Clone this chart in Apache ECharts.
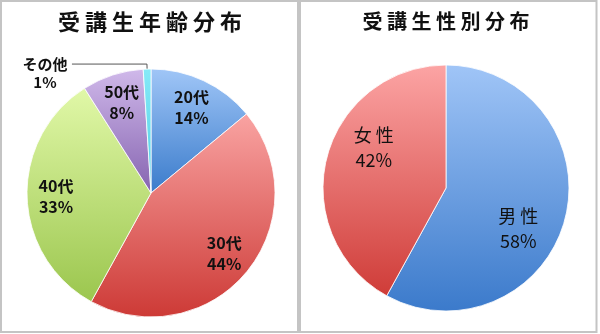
<!DOCTYPE html>
<html>
<head>
<meta charset="utf-8">
<script src="https://cdn.jsdelivr.net/npm/echarts@6/dist/echarts.min.js"></script>
<style>
  html, body { margin: 0; padding: 0; background: #fff; }
  #c { width: 600px; height: 334px; }
</style>
</head>
<body>
<div id="c"></div>
<script>
// Age distribution (percent)
const ageTitle = '受講生年齢分布';
const ageNames = ['20代', '30代', '40代', '50代', 'その他'];
const ageValues = [14, 44, 33, 8, 1];

// Gender distribution (percent)
const genderTitle = '受講生性別分布';
const genderNames = ['男性', '女性'];
const genderValues = [58, 42];

const FONT = '"Noto Sans CJK JP", "Noto Sans", sans-serif';

// vertical light-to-dark fill per slice
const grad = (top, bottom) => new echarts.graphic.LinearGradient(0, 0, 0, 1, [
  { offset: 0, color: top },
  { offset: 1, color: bottom }
]);
const ageColors = [
  grad('#a0c6f7', '#3a7bcb'),
  grad('#f9a3a2', '#cd3a36'),
  grad('#e1f8a8', '#9bc64e'),
  grad('#d0b9ea', '#8563b0'),
  grad('#86eaf8', '#4fcde3')
];
const genderColors = [
  grad('#a0c5f7', '#3b7acb'),
  grad('#fca4a4', '#cf3c38')
];

const spaced = s => s.split('').join(' ');

const chart = echarts.init(document.getElementById('c'), null, { renderer: 'canvas' });

const slices = (names, values, colors) => names.map((n, i) => ({
  name: n, value: values[i], itemStyle: { color: colors[i] }
}));

// label-only ring sitting on top of each pie
const ageLabels = ageNames.map((n, i) => {
  const d = { name: n, value: ageValues[i] };
  if (n === 'その他') {
    d.label = {
      position: 'outside',
      distanceToLabelLine: 2,
      padding: [18, 0, 0, 0],
      formatter: p => `{c|${p.name}}\n{c|${p.value}%}`,
      rich: {
        c: { width: 50, align: 'center', fontFamily: FONT, fontWeight: 'bold', fontSize: 15, lineHeight: 18, color: '#111' }
      }
    };
    d.labelLine = { show: true, length: 5, length2: 75, lineStyle: { color: '#555', width: 1 } };
  }
  return d;
});

const option = {
  backgroundColor: '#fff',
  animation: false,
  graphic: [
    { type: 'rect', shape: { x: 1, y: 1, width: 297, height: 331 },
      style: { fill: 'none', stroke: '#c4c4c4', lineWidth: 2 } },
    { type: 'rect', shape: { x: 300, y: 1, width: 296.5, height: 331 },
      style: { fill: 'none', stroke: '#c4c4c4', lineWidth: 2 } },
    { type: 'text', x: 150, y: 22,
      style: { text: spaced(ageTitle), fontFamily: FONT, fontWeight: 'bold', fontSize: 22,
               fill: '#111', align: 'center', verticalAlign: 'middle' } },
    { type: 'text', x: 446, y: 21,
      style: { text: spaced(genderTitle), fontFamily: FONT, fontWeight: 'bold', fontSize: 20,
               fill: '#111', align: 'center', verticalAlign: 'middle' } }
  ],
  series: [
    {
      type: 'pie',
      center: [151, 193],
      radius: 124,
      startAngle: 90,
      clockwise: true,
      silent: true,
      label: { show: false },
      labelLine: { show: false },
      itemStyle: { borderColor: 'rgba(255,255,255,0.8)', borderWidth: 1 },
      data: slices(ageNames, ageValues, ageColors)
    },
    {
      type: 'pie',
      center: [151, 193],
      radius: [60, 124],
      startAngle: 90,
      clockwise: true,
      silent: true,
      avoidLabelOverlap: false,
      itemStyle: { color: 'rgba(0,0,0,0)', borderWidth: 0 },
      emphasis: { disabled: true },
      label: {
        show: true, position: 'inside',
        formatter: p => `${p.name}\n${p.value}%`,
        fontFamily: FONT, fontWeight: 'bold', fontSize: 16, lineHeight: 21, color: '#111'
      },
      labelLine: { show: false },
      data: ageLabels
    },
    {
      type: 'pie',
      center: [446, 188],
      radius: 123,
      startAngle: 90,
      clockwise: true,
      silent: true,
      label: { show: false },
      labelLine: { show: false },
      itemStyle: { borderColor: 'rgba(255,255,255,0.8)', borderWidth: 1 },
      data: slices(genderNames, genderValues, genderColors)
    },
    {
      type: 'pie',
      center: [446, 188],
      radius: [37, 123],
      startAngle: 75,
      clockwise: true,
      silent: true,
      avoidLabelOverlap: false,
      itemStyle: { color: 'rgba(0,0,0,0)', borderWidth: 0 },
      emphasis: { disabled: true },
      label: {
        show: true, position: 'inside',
        formatter: p => `${spaced(p.name)}\n${p.value}%`,
        fontFamily: FONT, fontSize: 18, lineHeight: 25, color: '#111'
      },
      labelLine: { show: false },
      data: genderNames.map((n, i) => ({ name: n, value: genderValues[i] }))
    }
  ]
};

chart.setOption(option);
</script>
</body>
</html>
